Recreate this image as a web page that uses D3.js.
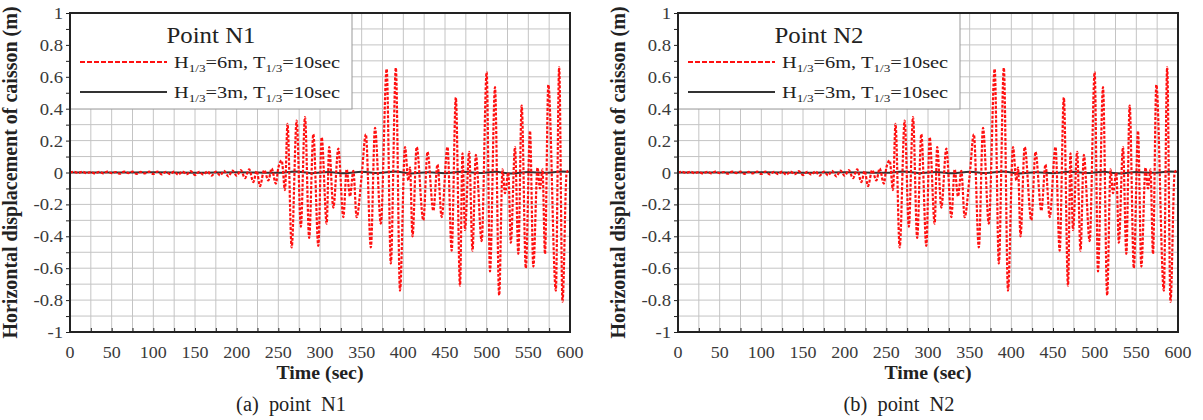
<!DOCTYPE html>
<html>
<head>
<meta charset="utf-8">
<script src="https://cdn.jsdelivr.net/npm/d3@7"></script>
<style>
body { margin: 0; background: #fff; }
</style>
</head>
<body>
<div id="container"></div>
<script>
/* horizontal displacement of caisson, points N1 and N2 */

/* CONSTANTS AND GLOBALS */
const width = 1203, height = 420;
const plotW = 500, plotTop = 13, plotBottom = 332;
const panelLeft = [70, 678]; // x of the y axis in each panel
const serif = "'Liberation Serif', 'Times New Roman', Times, serif";

/* DATA */
const panelTitles = ["Point N1", "Point N2"];
const panelCaptions = ["(a)  point  N1", "(b)  point  N2"];
const xTickValues = [0, 50, 100, 150, 200, 250, 300, 350, 400, 450, 500, 550, 600];
const yTickValues = [-1, -0.8, -0.6, -0.4, -0.2, 0, 0.2, 0.4, 0.6, 0.8, 1];
const legendWave = ["6m", "3m"];   // H1/3 of each series
const legendPeriod = "10sec";      // T1/3, same for both

// H1/3=6m, [time (sec), displacement (m)]
const traceH6 = [
  [0,0],[5,0.004],[10,-0.003],[15,0.005],[20,-0.004],[25,0.003],[30,-0.006],[35,0.004],[40,-0.005],[45,0.006],
  [50,-0.004],[55,0.003],[60,-0.007],[65,0.005],[70,-0.004],[75,0.006],[80,-0.008],[85,0.004],[90,-0.006],[95,0.005],
  [100,-0.009],[105,0.006],[110,-0.012],[115,0.004],[120,-0.01],[125,0.005],[130,-0.014],[135,0.006],[140,-0.011],[145,0.008],
  [150,-0.016],[155,0.004],[160,-0.013],[165,0.007],[170,-0.02],[175,0.006],[180,-0.018],[185,0.01],[190,-0.024],[195,0.012],
  [200,-0.02],[205,0.015],[210,-0.035],[215,0.02],[220,-0.06],[224,0.01],[228,-0.085],[233,0.015],[238,-0.05],[242,0.025],
  [247,-0.07],[250,0.03],[254,0.075],[258,-0.11],[261,0.305],[266,-0.47],[272,0.326],[277,-0.34],[282,0.347],[287,-0.41],
  [292,0.24],[298,-0.46],[302,0.22],[308,-0.32],[311,0.16],[316,-0.22],[322,0.15],[328,-0.28],[332,0.02],[336,-0.15],
  [340,0.01],[344,-0.28],[350,-0.02],[355,0.24],[361,-0.47],[366,0.28],[373,-0.32],[380,0.65],[385,-0.57],[391,0.656],
  [396,-0.74],[402,0.16],[406,-0.05],[408,0.03],[411,-0.4],[416,0.16],[424,-0.3],[429,0.13],[436,-0.24],[441,0.05],
  [446,-0.28],[453,0.16],[458,-0.49],[463,0.47],[468,-0.71],[471,0.12],[474,-0.36],[479,0.13],[483,-0.49],[487,0.11],
  [494,-0.43],[500,0.63],[504,-0.62],[510,0.535],[515,-0.77],[519,0.02],[522,-0.13],[526,0],[529,-0.44],[534,0.16],
  [538,-0.51],[542,0.42],[547,-0.6],[552,0.26],[556,-0.59],[561,0.03],[564,-0.1],[567,0.02],[570,-0.51],[574,0.55],
  [583,-0.74],[587,0.66],[591,-0.81],[596,0],[600,0.02]
];

// H1/3=3m, black solid trace, stays at ~0
const traceH3 = [
  [0,0],[50,0],[100,0.001],[150,-0.001],[200,0.002],[250,-0.002],[270,0.006],[290,-0.004],[310,0.003],[330,-0.005],
  [350,0.004],[370,-0.003],[390,0.007],[410,-0.006],[430,0.002],[450,-0.004],[470,0.005],[490,-0.003],[510,0.004],
  [530,-0.006],[550,0.003],[570,-0.002],[590,0.006],[600,0.004]
];

// the N2 traces read the same as N1
const panelTraces = [[traceH6, traceH3], [traceH6, traceH3]];

/* SVG */
const svg = d3.select("#container")
  .append("svg")
  .attr("width", width)
  .attr("height", height)
  .attr("font-family", serif);

// text stretched a little sideways, like the scanned figure
function addText(g, x, y, str, size, sx, anchor, weight) {
  return g.append("text")
    .attr("transform", `translate(${x},${y}) scale(${sx},1)`)
    .attr("text-anchor", anchor)
    .attr("font-family", serif)
    .attr("font-size", size)
    .attr("font-weight", weight || "normal")
    .attr("fill", "#222")
    .text(str);
}

function drawPanel(i) {
  const x0 = panelLeft[i];
  const g = svg.append("g");

  // SCALES
  const xScale = d3.scaleLinear().domain([0, 600]).range([x0, x0 + plotW]);
  const yScale = d3.scaleLinear().domain([-1, 1]).range([plotBottom, plotTop]);

  // GRID every 25 sec and 0.1 m
  g.append("g").selectAll("line")
    .data(d3.range(0, 601, 25))
    .join("line")
    .attr("x1", d => xScale(d)).attr("x2", d => xScale(d))
    .attr("y1", plotTop).attr("y2", plotBottom)
    .attr("stroke", "#c4c4c4").attr("stroke-width", 1);
  g.append("g").selectAll("line")
    .data(d3.range(-10, 11).map(k => k / 10))
    .join("line")
    .attr("x1", x0).attr("x2", x0 + plotW)
    .attr("y1", d => yScale(d)).attr("y2", d => yScale(d))
    .attr("stroke", "#c4c4c4").attr("stroke-width", 1);

  // LEGEND BOX (sits on the grid)
  const lg = g.append("g");
  lg.append("rect")
    .attr("x", x0).attr("y", plotTop)
    .attr("width", 282).attr("height", 96)
    .attr("fill", "#fff").attr("stroke", "#999").attr("stroke-width", 1);
  addText(lg, x0 + 141, 43, panelTitles[i], 23, 1.08, "middle");

  const legendY = [62, 92];
  legendY.forEach((ly, k) => {
    lg.append("line")
      .attr("x1", x0 + 10).attr("x2", x0 + 97)
      .attr("y1", ly).attr("y2", ly)
      .attr("stroke", k === 0 ? "#ff1010" : "#333")
      .attr("stroke-width", 2)
      .attr("stroke-dasharray", k === 0 ? "5,2" : null);
    const t = addText(lg, x0 + 104, ly + 6, "", 17, 1.2, "start");
    t.append("tspan").text("H");
    t.append("tspan").attr("dy", 4).attr("font-size", 11).text("1/3");
    t.append("tspan").attr("dy", -4).text("=" + legendWave[k] + ", T");
    t.append("tspan").attr("dy", 4).attr("font-size", 11).text("1/3");
    t.append("tspan").attr("dy", -4).text("=" + legendPeriod);
  });

  // LINES
  const lineGen = d3.line()
    .x(d => xScale(d[0]))
    .y(d => yScale(d[1]))
    .curve(d3.curveMonotoneX);

  g.append("path")
    .datum(panelTraces[i][1])
    .attr("d", lineGen)
    .attr("fill", "none")
    .attr("stroke", "#333")
    .attr("stroke-width", 2);

  g.append("path")
    .datum(panelTraces[i][0])
    .attr("d", lineGen)
    .attr("fill", "none")
    .attr("stroke", "#ff1010")
    .attr("stroke-width", 2.2)
    .attr("stroke-dasharray", "3,1.6");

  // AXES (ticks only, labels drawn below)
  g.append("g")
    .attr("transform", `translate(0,${plotBottom})`)
    .call(d3.axisBottom(xScale).tickValues(d3.range(0, 601, 25)).tickSize(-4).tickFormat(""))
    .call(a => a.selectAll("line").attr("stroke", "#222"))
    .call(a => a.select(".domain").remove());
  g.append("g")
    .attr("transform", `translate(${x0},0)`)
    .call(d3.axisLeft(yScale).tickValues(d3.range(-10, 11).map(k => k / 10)).tickSize(4).tickFormat(""))
    .call(a => a.selectAll("line").attr("stroke", "#222"))
    .call(a => a.select(".domain").remove());

  // frame
  g.append("rect")
    .attr("x", x0).attr("y", plotTop)
    .attr("width", plotW).attr("height", plotBottom - plotTop)
    .attr("fill", "none").attr("stroke", "#222").attr("stroke-width", 2);

  // tick labels
  xTickValues.forEach(v => addText(g, xScale(v), 358, String(v), 17, 1.06, "middle").attr("fill", "#3a3a3a"));
  yTickValues.forEach(v => addText(g, x0 - 7, yScale(v) + 6, String(v), 17, 1.1, "end").attr("fill", "#3a3a3a"));

  // axis titles and caption
  addText(g, x0 + plotW / 2, 379, "Time (sec)", 18, 1.1, "middle", "bold");
  g.append("text")
    .attr("transform", `translate(${x0 - 53},${(plotTop + plotBottom) / 2}) rotate(-90)`)
    .attr("text-anchor", "middle")
    .attr("font-family", serif)
    .attr("font-size", 20)
    .attr("font-weight", "bold")
    .attr("fill", "#222")
    .text("Horizontal displacement of caisson (m)");
  addText(g, x0 + 221, 411, panelCaptions[i], 20, 1.02, "middle").style("white-space", "pre");
}

drawPanel(0);
drawPanel(1);
</script>
</body>
</html>
